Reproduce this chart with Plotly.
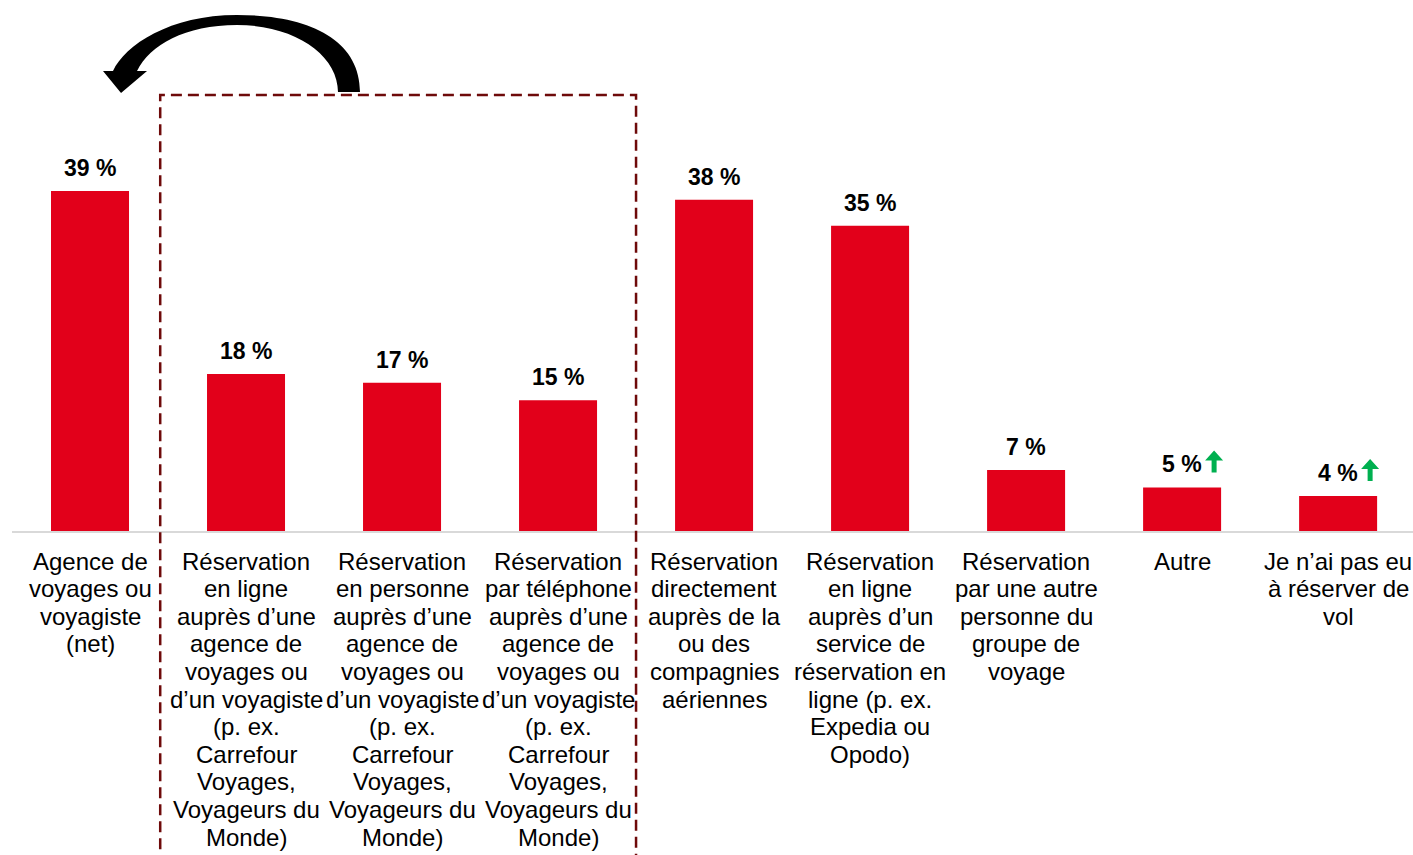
import plotly.graph_objects as go

# category labels, one list of lines per bar
label_lines = [
    ["Agence de", "voyages ou", "voyagiste", "(net)"],
    ["Réservation", "en ligne", "auprès d’une", "agence de", "voyages ou", "d’un voyagiste",
     "(p. ex.", "Carrefour", "Voyages,", "Voyageurs du", "Monde)"],
    ["Réservation", "en personne", "auprès d’une", "agence de", "voyages ou", "d’un voyagiste",
     "(p. ex.", "Carrefour", "Voyages,", "Voyageurs du", "Monde)"],
    ["Réservation", "par téléphone", "auprès d’une", "agence de", "voyages ou", "d’un voyagiste",
     "(p. ex.", "Carrefour", "Voyages,", "Voyageurs du", "Monde)"],
    ["Réservation", "directement", "auprès de la", "ou des", "compagnies", "aériennes"],
    ["Réservation", "en ligne", "auprès d’un", "service de", "réservation en", "ligne (p. ex.",
     "Expedia ou", "Opodo)"],
    ["Réservation", "par une autre", "personne du", "groupe de", "voyage"],
    ["Autre"],
    ["Je n’ai pas eu", "à réserver de", "vol"],
]
values = [39, 18, 17, 15, 38, 35, 7, 5, 4]
trend_up = [False, False, False, False, False, False, False, True, True]

RED = "#E2001A"
GREEN = "#00B050"
FONT = "Arial, Liberation Sans, sans-serif"
PX_PER_PCT = 8.72
W, H = 1413, 855
PLOT_TOP = 10
BASELINE = 531

x_pos = list(range(len(values)))

fig = go.Figure(go.Bar(
    x=x_pos, y=values, width=0.5,
    marker=dict(color=RED, line=dict(width=0)),
    hoverinfo="skip",
))

# value labels
for i, v in enumerate(values):
    fig.add_annotation(x=i, y=v, text=f"<b>{v} %</b>", showarrow=False,
                       yanchor="bottom", yshift=8,
                       font=dict(family=FONT, size=23, color="black"))
    if trend_up[i]:
        # small green up arrow next to the label
        fig.add_shape(type="path", xref="x", yref="y", xsizemode="pixel", ysizemode="pixel",
                      xanchor=i, yanchor=v,
                      path="M 23,27 L 32,37 L 41,27 L 34.5,27 L 34.5,15 L 29.5,15 L 29.5,27 Z",
                      fillcolor=GREEN, line=dict(width=0))

# category labels, one annotation per line for tight line spacing
for i, lines in enumerate(label_lines):
    for j, line in enumerate(lines):
        fig.add_annotation(x=i, y=0, xref="x", yref="paper", text=line, showarrow=False,
                           yanchor="middle", yshift=-(30 + j * 27.6),
                           font=dict(family=FONT, size=24, color="black"))

# dashed box around the agency sub-categories
box_top = (BASELINE - 95) / (BASELINE - PLOT_TOP)
fig.add_shape(type="rect", xref="x", yref="paper", x0=0.45, x1=3.5, y0=-1.0, y1=box_top,
              line=dict(color="#6E0A0A", width=2.5, dash="11px,6px"), fillcolor="rgba(0,0,0,0)")

# curved black arrow (screen px, converted to offsets from first bar's base)
pts = [(360, 92), (360, 40), (310, 15), (237, 15), (170, 15), (125, 45), (113, 71),
       (103, 71), (121, 93), (147, 71), (137, 71),
       (150, 45), (185, 25), (237, 25), (295, 25), (338, 55), (338, 92)]
off = [(px - 90, BASELINE - py) for px, py in pts]
f = lambda p: f"{p[0]},{p[1]}"
path = (f"M {f(off[0])} C {f(off[1])} {f(off[2])} {f(off[3])} C {f(off[4])} {f(off[5])} {f(off[6])} "
        f"L {f(off[7])} L {f(off[8])} L {f(off[9])} L {f(off[10])} "
        f"C {f(off[11])} {f(off[12])} {f(off[13])} C {f(off[14])} {f(off[15])} {f(off[16])} Z")
fig.add_shape(type="path", xref="x", yref="y", xsizemode="pixel", ysizemode="pixel",
              xanchor=0, yanchor=0, path=path, fillcolor="black", line=dict(width=0))

fig.update_layout(
    width=W, height=H,
    margin=dict(l=12, r=0, t=PLOT_TOP, b=H - BASELINE),
    plot_bgcolor="white", paper_bgcolor="white",
    showlegend=False,
    xaxis=dict(range=[-0.5, 8.48], showticklabels=False, showgrid=False, zeroline=False,
               showline=True, linecolor="#D9D9D9", linewidth=2, ticks=""),
    yaxis=dict(range=[0, (BASELINE - PLOT_TOP) / PX_PER_PCT], visible=False),
)

# drop the page margin so the figure fills the window exactly
fig.write_html("out.html", config={"displayModeBar": False},
               post_script="document.body.style.margin='0';document.body.style.overflow='hidden';")
